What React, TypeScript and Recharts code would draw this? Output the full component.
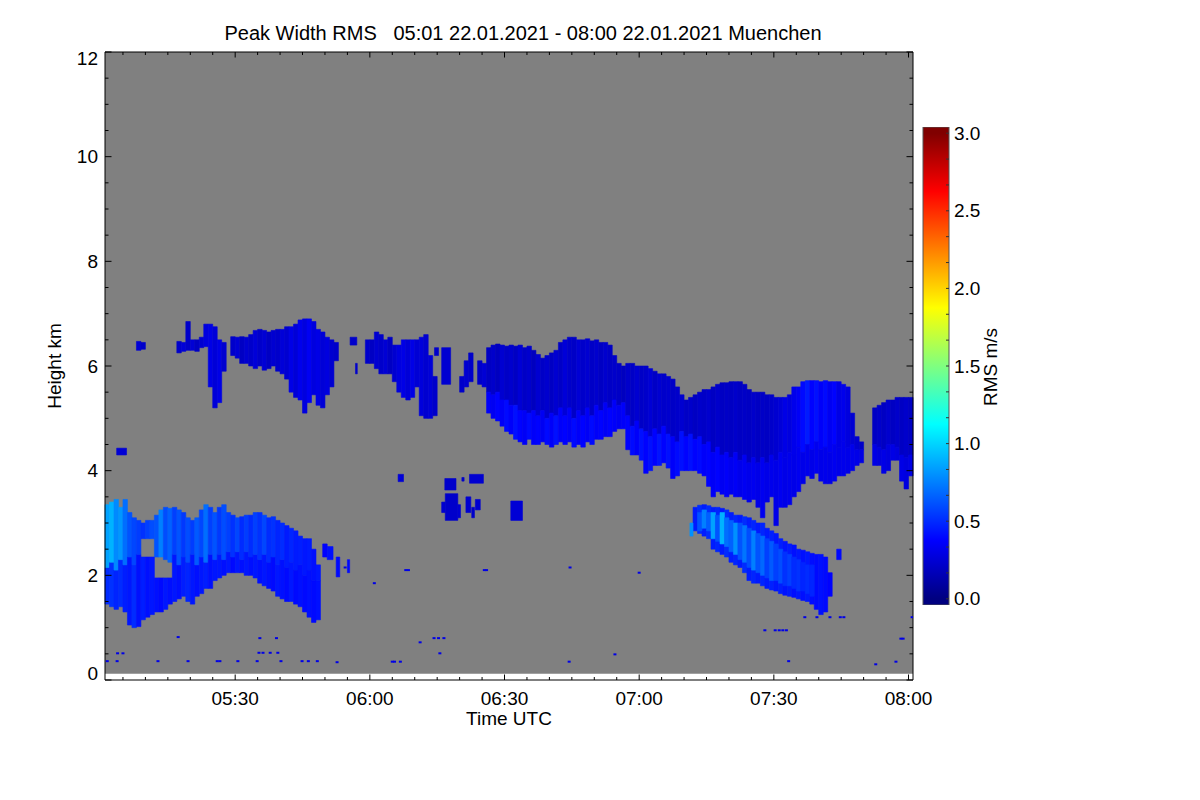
import { Bar, BarChart, ComposedChart, ReferenceArea, Scatter, XAxis, YAxis } from "recharts"

const FONT = '"Liberation Sans", Arial, Helvetica, sans-serif'
const PANEL_GRAY = "#808080"

// time = minutes after 00:00 UTC, height in km, value = peak width RMS in m/s
const timeTicks = [
  305, 310, 315, 320, 325, 330, 335, 340, 345, 350, 355, 360, 365, 370, 375, 380, 385, 390,
  395, 400, 405, 410, 415, 420, 425, 430, 435, 440, 445, 450, 455, 460, 465, 470, 475, 480,
]
const heightTicks = [
  0, 0.5, 1, 1.5, 2, 2.5, 3, 3.5, 4, 4.5, 5, 5.5, 6, 6.5, 7, 7.5, 8, 8.5, 9, 9.5, 10, 10.5, 11, 11.5, 12,
]
const rmsTicks = Array.from({ length: 19 }, (_, i) => i / 6)

// low cloud 05:01-05:50: [minute, bottom, top, rms]
const lowWest: [number, number, number, number][] = [
  [301, 1.45, 2.15, 0.5], [301, 2.15, 3.35, 0.85],
  [302, 1.4, 2.25, 0.52], [302, 2.25, 3.4, 0.9],
  [303, 1.35, 2.1, 0.48], [303, 2.1, 3.45, 0.78],
  [304, 1.4, 2.3, 0.5], [304, 2.3, 3.3, 0.82],
  [305, 1.3, 2.2, 0.46], [305, 2.2, 3.45, 0.7],
  [306, 1.05, 2.35, 0.44], [306, 2.35, 3.2, 0.62],
  [307, 1.0, 2.2, 0.5], [307, 2.2, 3.1, 0.58],
  [308, 1.02, 2.4, 0.42], [308, 2.4, 3.05, 0.55],
  [309, 1.15, 2.35, 0.46], [309, 2.7, 3.0, 0.52],
  [310, 1.2, 2.35, 0.42], [310, 2.7, 3.05, 0.56],
  [311, 1.25, 2.35, 0.44], [311, 2.7, 3.05, 0.6],
  [312, 1.3, 1.95, 0.42], [312, 2.35, 3.15, 0.62],
  [313, 1.3, 1.95, 0.4], [313, 2.35, 3.25, 0.75],
  [314, 1.35, 1.95, 0.44], [314, 2.3, 3.3, 0.6],
  [315, 1.45, 1.95, 0.42], [315, 2.25, 3.28, 0.66],
  [316, 1.5, 2.4, 0.44], [316, 2.4, 3.3, 0.56],
  [317, 1.55, 2.2, 0.42], [317, 2.2, 3.25, 0.62],
  [318, 1.6, 2.35, 0.46], [318, 2.35, 3.2, 0.54],
  [319, 1.5, 2.25, 0.48], [319, 2.25, 3.1, 0.6],
  [320, 1.45, 2.4, 0.44], [320, 2.4, 3.05, 0.55],
  [321, 1.6, 2.2, 0.42], [321, 2.2, 3.1, 0.64],
  [322, 1.65, 2.35, 0.44], [322, 2.35, 3.25, 0.58],
  [323, 1.75, 2.25, 0.46], [323, 2.25, 3.35, 0.7],
  [324, 1.75, 2.4, 0.42], [324, 2.4, 3.3, 0.56],
  [325, 1.9, 2.3, 0.44], [325, 2.3, 3.2, 0.62],
  [326, 1.95, 2.4, 0.44], [326, 2.4, 3.3, 0.54],
  [327, 2.0, 2.3, 0.42], [327, 2.3, 3.35, 0.6],
  [328, 2.05, 2.45, 0.44], [328, 2.45, 3.2, 0.56],
  [329, 2.05, 2.35, 0.4], [329, 2.35, 3.15, 0.52],
  [330, 2.05, 2.45, 0.44], [330, 2.45, 3.1, 0.58],
  [331, 2.05, 2.3, 0.42], [331, 2.3, 3.12, 0.5],
  [332, 2.0, 2.45, 0.44], [332, 2.45, 3.15, 0.55],
  [333, 2.0, 2.35, 0.42], [333, 2.35, 3.15, 0.5],
  [334, 1.95, 2.4, 0.44], [334, 2.4, 3.2, 0.56],
  [335, 1.85, 2.3, 0.42], [335, 2.3, 3.2, 0.52],
  [336, 1.8, 2.4, 0.44], [336, 2.4, 3.15, 0.58],
  [337, 1.75, 2.25, 0.42], [337, 2.25, 3.1, 0.5],
  [338, 1.7, 2.35, 0.4], [338, 2.35, 3.12, 0.52],
  [339, 1.6, 2.2, 0.44], [339, 2.2, 3.05, 0.48],
  [340, 1.55, 2.3, 0.42], [340, 2.3, 3.0, 0.5],
  [341, 1.5, 2.15, 0.4], [341, 2.15, 2.95, 0.45],
  [342, 1.5, 2.25, 0.44], [342, 2.25, 2.9, 0.48],
  [343, 1.45, 2.1, 0.4], [343, 2.1, 2.85, 0.45],
  [344, 1.4, 2.2, 0.42], [344, 2.2, 2.75, 0.46],
  [345, 1.3, 2.0, 0.4], [345, 2.0, 2.7, 0.44],
  [346, 1.2, 2.1, 0.42], [346, 2.1, 2.7, 0.45],
  [347, 1.1, 1.9, 0.4], [347, 1.9, 2.5, 0.42],
  [348, 1.15, 1.9, 0.42], [348, 1.9, 2.2, 0.44],
]

// mid-level cloud 05:08-06:15: [minute, bottom, top, rms]
const midWest: [number, number, number, number][] = [
  [308, 6.3, 6.47, 0.25], [309, 6.32, 6.45, 0.22],
  [317, 6.25, 6.47, 0.22], [318, 6.28, 6.45, 0.26], [319, 6.3, 6.85, 0.22], [320, 6.3, 6.5, 0.25],
  [321, 6.28, 6.5, 0.2], [322, 6.35, 6.55, 0.24], [323, 6.37, 6.8, 0.28], [324, 5.6, 6.8, 0.3],
  [325, 5.2, 6.75, 0.26], [326, 5.3, 6.5, 0.3], [327, 5.9, 6.45, 0.24],
  [329, 6.2, 6.56, 0.22], [330, 6.15, 6.55, 0.25], [331, 6.05, 6.56, 0.2], [332, 6.05, 6.55, 0.24],
  [333, 6.0, 6.6, 0.22], [334, 5.95, 6.68, 0.26], [335, 6.0, 6.7, 0.22], [336, 5.92, 6.68, 0.25],
  [337, 5.95, 6.65, 0.2], [338, 6.0, 6.68, 0.24], [339, 5.9, 6.7, 0.22], [340, 5.85, 6.7, 0.26],
  [341, 5.75, 6.75, 0.24], [342, 5.5, 6.75, 0.3], [343, 5.4, 6.8, 0.26], [344, 5.35, 6.88, 0.32],
  [345, 5.1, 6.9, 0.28], [346, 5.3, 6.9, 0.34], [347, 5.45, 6.85, 0.28], [348, 5.25, 6.7, 0.3],
  [349, 5.2, 6.65, 0.26], [350, 5.45, 6.55, 0.28], [351, 5.6, 6.5, 0.24], [352, 6.1, 6.45, 0.22],
  [359, 6.05, 6.5, 0.22], [360, 6.05, 6.5, 0.2], [361, 5.95, 6.65, 0.24], [362, 5.85, 6.6, 0.22],
  [363, 5.85, 6.5, 0.25], [364, 5.85, 6.55, 0.2], [365, 5.7, 6.4, 0.24], [366, 5.5, 6.4, 0.28],
  [367, 5.4, 6.5, 0.3], [368, 5.35, 6.5, 0.26], [369, 5.4, 6.5, 0.3], [370, 5.6, 6.5, 0.25],
  [371, 5.05, 6.55, 0.27], [372, 5.0, 6.6, 0.24], [373, 5.0, 6.2, 0.26], [374, 5.05, 5.8, 0.22],
]

// mid-level band 06:24-08:00: [minute, bottom, split, top, rms below split, rms above split]
const midBand: [number, number, number, number, number, number][] = [
  [384, 5.65, 5.65, 6.1, 0.3, 0.22], [385, 5.6, 5.6, 6.05, 0.3, 0.25],
  [386, 5.1, 5.5, 6.35, 0.36, 0.2], [387, 5.0, 5.45, 6.4, 0.34, 0.22],
  [388, 4.95, 5.5, 6.42, 0.38, 0.19], [389, 4.85, 5.35, 6.4, 0.35, 0.24],
  [390, 4.75, 5.35, 6.38, 0.4, 0.21], [391, 4.7, 5.25, 6.4, 0.36, 0.23],
  [392, 4.6, 5.25, 6.38, 0.42, 0.2], [393, 4.55, 5.15, 6.4, 0.38, 0.25],
  [394, 4.5, 5.15, 6.35, 0.35, 0.21], [395, 4.6, 5.1, 6.38, 0.4, 0.23],
  [396, 4.5, 5.15, 6.3, 0.36, 0.19], [397, 4.5, 5.05, 6.22, 0.38, 0.24],
  [398, 4.55, 5.15, 6.15, 0.34, 0.21], [399, 4.5, 5.0, 6.2, 0.4, 0.23],
  [400, 4.45, 5.1, 6.25, 0.36, 0.2], [401, 4.5, 5.05, 6.3, 0.42, 0.24],
  [402, 4.55, 5.2, 6.45, 0.36, 0.21], [403, 4.5, 5.05, 6.5, 0.38, 0.26],
  [404, 4.55, 5.2, 6.55, 0.35, 0.22], [405, 4.45, 5.0, 6.55, 0.4, 0.21],
  [406, 4.5, 5.15, 6.5, 0.36, 0.25], [407, 4.45, 5.05, 6.5, 0.38, 0.22],
  [408, 4.55, 5.2, 6.52, 0.35, 0.24], [409, 4.5, 5.05, 6.48, 0.4, 0.21],
  [410, 4.6, 5.25, 6.5, 0.36, 0.23], [411, 4.6, 5.15, 6.45, 0.38, 0.2],
  [412, 4.65, 5.3, 6.45, 0.35, 0.23], [413, 4.65, 5.2, 6.4, 0.38, 0.21],
  [414, 4.75, 5.35, 6.2, 0.36, 0.22], [415, 4.8, 5.25, 6.05, 0.34, 0.21],
  [416, 4.8, 5.3, 6.0, 0.36, 0.19], [417, 4.4, 5.05, 6.05, 0.38, 0.22],
  [418, 4.3, 4.85, 6.05, 0.4, 0.21], [419, 4.3, 4.95, 6.0, 0.36, 0.24],
  [420, 4.2, 4.8, 6.0, 0.42, 0.21], [421, 3.95, 4.75, 6.0, 0.38, 0.22],
  [422, 4.0, 4.65, 5.95, 0.42, 0.25], [423, 4.1, 4.8, 5.9, 0.38, 0.21],
  [424, 4.1, 4.7, 5.85, 0.43, 0.24], [425, 4.15, 4.85, 5.85, 0.38, 0.22],
  [426, 4.05, 4.7, 5.8, 0.42, 0.23], [427, 3.85, 4.65, 5.75, 0.36, 0.21],
  [428, 3.9, 4.55, 5.6, 0.4, 0.22], [429, 4.0, 4.75, 5.45, 0.42, 0.24],
  [430, 4.0, 4.65, 5.35, 0.38, 0.21], [431, 4.0, 4.7, 5.4, 0.42, 0.22],
  [432, 4.0, 4.6, 5.45, 0.38, 0.2], [433, 3.95, 4.65, 5.5, 0.4, 0.22],
  [434, 3.9, 4.5, 5.55, 0.36, 0.21], [435, 3.7, 4.55, 5.55, 0.38, 0.23],
  [436, 3.5, 4.35, 5.6, 0.35, 0.2], [437, 3.6, 4.45, 5.65, 0.38, 0.22],
  [438, 3.55, 4.3, 5.68, 0.34, 0.2], [439, 3.5, 4.35, 5.68, 0.36, 0.21],
  [440, 3.55, 4.25, 5.7, 0.33, 0.2], [441, 3.5, 4.35, 5.7, 0.35, 0.22],
  [442, 3.5, 4.2, 5.7, 0.32, 0.2], [443, 3.45, 4.3, 5.65, 0.34, 0.21],
  [444, 3.4, 4.15, 5.55, 0.32, 0.2], [445, 3.45, 4.25, 5.5, 0.33, 0.22],
  [446, 3.3, 4.15, 5.5, 0.31, 0.2], [447, 3.1, 4.25, 5.5, 0.33, 0.21],
  [448, 3.4, 4.15, 5.45, 0.31, 0.2], [449, 3.5, 4.3, 5.45, 0.32, 0.22],
  [450, 2.95, 4.2, 5.4, 0.31, 0.24], [451, 3.3, 4.35, 5.4, 0.33, 0.26],
  [452, 3.3, 4.25, 5.4, 0.31, 0.3], [453, 3.35, 4.35, 5.45, 0.32, 0.28],
  [454, 3.5, 4.3, 5.6, 0.31, 0.32], [455, 3.6, 4.45, 5.6, 0.33, 0.35],
  [456, 3.75, 4.35, 5.7, 0.31, 0.4], [457, 3.9, 4.5, 5.72, 0.32, 0.45],
  [458, 3.85, 4.4, 5.72, 0.31, 0.38], [459, 3.95, 4.55, 5.72, 0.33, 0.42],
  [460, 3.8, 4.4, 5.7, 0.31, 0.36], [461, 3.75, 4.45, 5.72, 0.32, 0.4],
  [462, 3.75, 4.35, 5.7, 0.31, 0.34], [463, 3.8, 4.5, 5.7, 0.33, 0.38],
  [464, 3.9, 4.45, 5.7, 0.31, 0.3], [465, 3.9, 4.55, 5.65, 0.32, 0.32],
  [466, 3.95, 4.45, 5.6, 0.31, 0.28], [467, 4.0, 4.5, 5.1, 0.32, 0.25],
  [468, 4.1, 4.4, 4.65, 0.31, 0.24], [469, 4.15, 4.4, 4.55, 0.3, 0.22],
  [472, 4.1, 4.5, 5.2, 0.3, 0.2], [473, 4.1, 4.45, 5.25, 0.28, 0.22],
  [474, 3.95, 4.4, 5.3, 0.3, 0.2], [475, 4.0, 4.5, 5.35, 0.28, 0.23],
  [476, 4.2, 4.5, 5.35, 0.3, 0.2], [477, 4.2, 4.45, 5.4, 0.28, 0.22],
  [478, 3.8, 4.3, 5.4, 0.3, 0.2], [479, 3.65, 4.25, 5.4, 0.28, 0.22],
  [480, 3.9, 4.3, 5.4, 0.3, 0.2],
]

// low cloud 07:12-07:45, outer body: [minute, bottom, top, rms]
const lowEast: [number, number, number, number][] = [
  [432, 2.85, 3.3, 0.45], [433, 2.8, 3.34, 0.5], [434, 2.75, 3.35, 0.46], [435, 2.7, 3.33, 0.5],
  [436, 2.5, 3.3, 0.46], [437, 2.45, 3.3, 0.48], [438, 2.4, 3.28, 0.45], [439, 2.35, 3.25, 0.5],
  [440, 2.25, 3.2, 0.46], [441, 2.2, 3.15, 0.48], [442, 2.15, 3.15, 0.45], [443, 2.05, 3.12, 0.5],
  [444, 1.9, 3.1, 0.46], [445, 1.85, 3.05, 0.48], [446, 1.85, 3.0, 0.45], [447, 1.8, 3.0, 0.48],
  [448, 1.75, 2.9, 0.45], [449, 1.72, 2.85, 0.47], [450, 1.7, 2.8, 0.44], [451, 1.65, 2.7, 0.46],
  [452, 1.62, 2.65, 0.43], [453, 1.6, 2.6, 0.45], [454, 1.58, 2.58, 0.42], [455, 1.55, 2.5, 0.44],
  [456, 1.52, 2.48, 0.42], [457, 1.5, 2.45, 0.44], [458, 1.45, 2.42, 0.41], [459, 1.35, 2.4, 0.4],
  [460, 1.25, 2.4, 0.42], [461, 1.3, 2.35, 0.4], [462, 1.6, 2.05, 0.38],
]

// low cloud 07:12-07:45, brighter core: [minute, bottom, top, rms]
const lowEastCore: [number, number, number, number][] = [
  [433, 2.85, 3.2, 0.62], [434, 2.9, 3.25, 0.75], [435, 2.85, 3.2, 0.65], [436, 2.7, 3.2, 0.85],
  [437, 2.65, 3.15, 0.62], [438, 2.6, 3.2, 0.9], [439, 2.55, 3.1, 0.7], [440, 2.45, 3.05, 0.66],
  [441, 2.4, 3.0, 0.8], [442, 2.3, 3.0, 0.62], [443, 2.25, 2.95, 0.72], [444, 2.15, 2.9, 0.6],
  [445, 2.1, 2.85, 0.75], [446, 2.05, 2.8, 0.62], [447, 2.0, 2.75, 0.68], [448, 1.95, 2.7, 0.56],
  [449, 1.9, 2.65, 0.64], [450, 1.9, 2.6, 0.56], [451, 1.85, 2.5, 0.6], [452, 1.8, 2.45, 0.52],
  [453, 1.8, 2.4, 0.56], [454, 1.75, 2.35, 0.5], [455, 1.7, 2.3, 0.52], [456, 1.7, 2.25, 0.48],
  [457, 1.65, 2.2, 0.5], [458, 1.6, 2.2, 0.48],
]

// small isolated echoes: [start minute, end minute, bottom, top, rms]
const patches: [number, number, number, number, number][] = [
  [303.6, 305.8, 4.3, 4.43, 0.25],
  [355.6, 357.1, 6.4, 6.55, 0.22],
  [356.8, 357.2, 5.85, 6.05, 0.22],
  [374.4, 375.3, 6.2, 6.35, 0.22],
  [376, 378, 5.65, 6.35, 0.24],
  [380, 381, 5.5, 5.8, 0.22],
  [381, 382, 5.6, 6.1, 0.24],
  [382, 383, 5.7, 6.25, 0.22],
  [384.3, 384.8, 5.8, 5.95, 0.22],
  [366.3, 367.5, 3.79, 3.93, 0.25],
  [376.7, 379.2, 3.63, 3.85, 0.22],
  [380.5, 381, 3.8, 3.87, 0.22],
  [382.2, 385.3, 3.76, 3.93, 0.24],
  [376, 376.8, 3.2, 3.4, 0.24],
  [376.8, 379.6, 3.05, 3.56, 0.22],
  [379.6, 380.2, 3.1, 3.35, 0.24],
  [381.4, 382.5, 3.2, 3.5, 0.24],
  [382.7, 383.3, 3.1, 3.3, 0.22],
  [383.5, 384.6, 3.25, 3.45, 0.24],
  [391.4, 394, 3.05, 3.42, 0.25],
  [349.5, 350.5, 2.35, 2.6, 0.38],
  [350.5, 351.8, 2.3, 2.55, 0.42],
  [352.5, 353.3, 1.97, 2.35, 0.4],
  [355, 355.5, 2.05, 2.3, 0.4],
  [431.3, 432, 2.75, 3.0, 0.8],
  [464, 465, 2.3, 2.5, 0.4],
]

// single-gate specks: [minute, height]
const specks: [number, number][] = [
  [303.8, 0.51], [305, 0.51], [301.5, 0.36], [303.7, 0.36], [312.8, 0.36], [317.3, 0.82],
  [319.5, 0.36], [326, 0.36], [326.6, 0.36], [330.6, 0.36], [334.9, 0.36], [335.5, 0.8],
  [335.3, 0.52], [336.2, 0.52], [337.8, 0.52], [339.5, 0.52], [339.2, 0.8], [340.2, 0.36],
  [344.9, 0.36], [346.3, 0.36], [348.3, 0.36], [352.7, 0.34], [361, 1.85], [368, 2.1],
  [368.6, 2.1], [385.5, 2.1], [386, 2.1], [371.2, 0.72], [374.3, 0.8], [375.3, 0.8],
  [376.5, 0.8], [375.6, 0.51], [365, 0.35], [365.5, 0.35], [366.8, 0.35], [404.4, 0.35],
  [414.6, 0.49], [448, 0.95], [450.3, 0.95], [451.2, 0.95], [452, 0.95], [452.8, 0.95],
  [453.3, 0.36], [456.9, 1.2], [459.6, 1.2], [462.5, 1.2], [464.8, 1.2], [465.6, 1.2],
  [478.3, 0.79], [478.8, 0.79], [472.7, 0.3], [477.2, 0.35], [480.8, 1.2], [404.6, 2.15],
  [420, 2.05], [354.5, 2.15], [366.7, 3.87],
]

// IDL-like jet colour table over 0..3 m/s
const jet: [number, number[]][] = [
  [0, [0, 0, 128]],
  [0.375, [0, 0, 255]],
  [1.125, [0, 255, 255]],
  [1.875, [255, 255, 0]],
  [2.625, [255, 0, 0]],
  [3, [128, 0, 0]],
]

function rmsColor(v: number) {
  const x = Math.max(0, Math.min(3, v))
  for (let i = 1; i < jet.length; i++) {
    const [v0, c0] = jet[i - 1]
    const [v1, c1] = jet[i]
    if (x <= v1) {
      const f = (x - v0) / (v1 - v0)
      const c = c0.map((a, k) => Math.round(a + (c1[k] - a) * f))
      return `rgb(${c[0]},${c[1]},${c[2]})`
    }
  }
  return "rgb(128,0,0)"
}

const hhmm = (m: number) =>
  `${String(Math.floor(m / 60)).padStart(2, "0")}:${String(m % 60).padStart(2, "0")}`

type Cell = [number, number, number, number, number]

const cells: Cell[] = [
  ...lowWest.map(([t, lo, hi, v]) => [t, t + 1, lo, hi, v] as Cell),
  ...midWest.map(([t, lo, hi, v]) => [t, t + 1, lo, hi, v] as Cell),
  ...midBand.flatMap(([t, lo, mid, hi, vLow, vHigh]) => {
    const out: Cell[] = [[t, t + 1, mid, hi, vHigh]]
    if (mid > lo) out.push([t, t + 1, lo, mid, vLow])
    return out
  }),
  ...lowEast.map(([t, lo, hi, v]) => [t, t + 1, lo, hi, v] as Cell),
  ...lowEastCore.map(([t, lo, hi, v]) => [t, t + 1, lo, hi, v] as Cell),
  ...patches,
]

const speckData = specks.map(([t, h]) => ({ t, h }))

const GAP = 4
const tickText = { fontFamily: FONT, fontSize: 19, fill: "#000" }

const LeftTick = (props: any) => {
  const { x, y, payload } = props
  const v = payload.value
  const ax = x + GAP
  const major = v % 2 === 0
  const shift = v === 0 ? -6.5 : v === 12 ? 6.5 : 0
  return (
    <g>
      <line x1={ax} x2={ax + (major ? 6.5 : 3.5)} y1={y} y2={y} stroke="#000" />
      {major && (
        <text x={ax - 7} y={y + shift} textAnchor="end" dominantBaseline="central" {...tickText}>
          {v}
        </text>
      )}
    </g>
  )
}

const RightTick = (props: any) => {
  const { x, y, payload } = props
  const ax = x - GAP
  const major = payload.value % 2 === 0
  return <line x1={ax} x2={ax - (major ? 6.5 : 3.5)} y1={y} y2={y} stroke="#000" />
}

const BottomTick = (props: any) => {
  const { x, y, payload } = props
  const m = payload.value
  const ay = y - GAP
  const major = m % 30 === 0
  return (
    <g>
      <line x1={x} x2={x} y1={ay} y2={ay - (major ? 5.5 : 3)} stroke="#000" />
      {major && (
        <text x={x} y={ay + 25} textAnchor="middle" {...tickText}>
          {hhmm(m)}
        </text>
      )}
    </g>
  )
}

const TopTick = (props: any) => {
  const { x, y, payload } = props
  const ay = y + GAP
  const major = payload.value % 30 === 0
  return <line x1={x} x2={x} y1={ay} y2={ay + (major ? 5.5 : 3)} stroke="#000" />
}

const ColorbarTick = (props: any) => {
  const { x, y, payload } = props
  const v = payload.value
  const ax = x - GAP
  const major = Math.abs(v * 2 - Math.round(v * 2)) < 1e-6
  return (
    <g>
      <line x1={ax} x2={ax - 3} y1={y} y2={y} stroke="#333" />
      {major && (
        <text x={ax + 5} y={y} textAnchor="start" dominantBaseline="central" {...tickText}>
          {v.toFixed(1)}
        </text>
      )}
    </g>
  )
}

const colorbarSpan = [{ name: "rms", span: [-0.04, 3.04] }]

export default function App() {
  return (
    <div
      style={{
        position: "absolute",
        left: 0,
        top: 0,
        width: 1200,
        height: 800,
        background: "#fff",
        fontFamily: FONT,
        color: "#000",
      }}
    >
      <div style={{ position: "absolute", left: 0, top: 0 }}>
        <ComposedChart width={1200} height={800} margin={{ top: 50, right: 280, bottom: 80, left: 55 }}>
          <XAxis
            type="number"
            dataKey="t"
            domain={[301, 481]}
            allowDataOverflow
            ticks={timeTicks}
            interval={0}
            tick={<BottomTick />}
            tickLine={false}
            tickSize={0}
            tickMargin={GAP}
            axisLine={{ stroke: "#000" }}
            height={40}
          />
          <XAxis
            xAxisId="top"
            orientation="top"
            type="number"
            dataKey="t"
            domain={[301, 481]}
            allowDataOverflow
            ticks={timeTicks}
            interval={0}
            tick={<TopTick />}
            tickLine={false}
            tickSize={0}
            tickMargin={GAP}
            axisLine={{ stroke: "#000" }}
            height={2}
          />
          <YAxis
            type="number"
            dataKey="h"
            domain={[0, 12]}
            allowDataOverflow
            ticks={heightTicks}
            interval={0}
            tick={<LeftTick />}
            tickLine={false}
            tickSize={0}
            tickMargin={GAP}
            axisLine={{ stroke: "#000" }}
            width={50}
          />
          <YAxis
            yAxisId="right"
            orientation="right"
            type="number"
            dataKey="h"
            domain={[0, 12]}
            allowDataOverflow
            ticks={heightTicks}
            interval={0}
            tick={<RightTick />}
            tickLine={false}
            tickSize={0}
            tickMargin={GAP}
            axisLine={{ stroke: "#000" }}
            width={7}
          />
          <ReferenceArea x1={301} x2={481} y1={0.12} y2={12} fill={PANEL_GRAY} fillOpacity={1} stroke="none" />
          {cells.map(([x1, x2, y1, y2, v], i) => {
            const c = rmsColor(v)
            return (
              <ReferenceArea
                key={i}
                x1={x1}
                x2={x2}
                y1={y1}
                y2={y2}
                fill={c}
                fillOpacity={1}
                stroke={c}
                strokeWidth={0.6}
              />
            )
          })}
          <Scatter
            data={speckData}
            isAnimationActive={false}
            shape={(p: any) => (
              <rect x={p.cx - 1.5} y={p.cy - 1} width={3} height={2} fill={rmsColor(0.3)} />
            )}
          />
        </ComposedChart>
      </div>

      <div style={{ position: "absolute", left: 900, top: 100 }}>
        <BarChart
          width={100}
          height={540}
          data={colorbarSpan}
          margin={{ top: 27, right: 0, bottom: 35, left: 23 }}
          barCategoryGap={0}
        >
          <defs>
            <linearGradient id="rmsJet" x1="0" y1="1" x2="0" y2="0">
              {jet.map(([v, c]) => (
                <stop key={v} offset={(v + 0.04) / 3.08} stopColor={`rgb(${c[0]},${c[1]},${c[2]})`} />
              ))}
            </linearGradient>
          </defs>
          <XAxis dataKey="name" hide />
          <YAxis
            orientation="right"
            type="number"
            domain={[-0.04, 3.04]}
            allowDataOverflow
            ticks={rmsTicks}
            interval={0}
            tick={<ColorbarTick />}
            tickLine={false}
            tickSize={0}
            tickMargin={GAP}
            axisLine={false}
            width={51}
          />
          <Bar dataKey="span" fill="url(#rmsJet)" stroke="#555" strokeWidth={1} isAnimationActive={false} />
        </BarChart>
      </div>

      <div
        style={{
          position: "absolute",
          left: 523,
          top: 33,
          transform: "translate(-50%, -50%)",
          fontSize: 20,
          whiteSpace: "pre",
        }}
      >
        Peak Width RMS   05:01 22.01.2021 - 08:00 22.01.2021 Muenchen
      </div>
      <div
        style={{
          position: "absolute",
          left: 509,
          top: 719,
          transform: "translate(-50%, -50%)",
          fontSize: 19,
          whiteSpace: "pre",
        }}
      >
        Time UTC
      </div>
      <div
        style={{
          position: "absolute",
          left: 55,
          top: 366,
          transform: "translate(-50%, -50%) rotate(-90deg)",
          fontSize: 19,
          whiteSpace: "pre",
        }}
      >
        Height km
      </div>
      <div
        style={{
          position: "absolute",
          left: 991,
          top: 367,
          transform: "translate(-50%, -50%) rotate(-90deg)",
          fontSize: 19,
          whiteSpace: "pre",
        }}
      >
        RMS m/s
      </div>
    </div>
  )
}
